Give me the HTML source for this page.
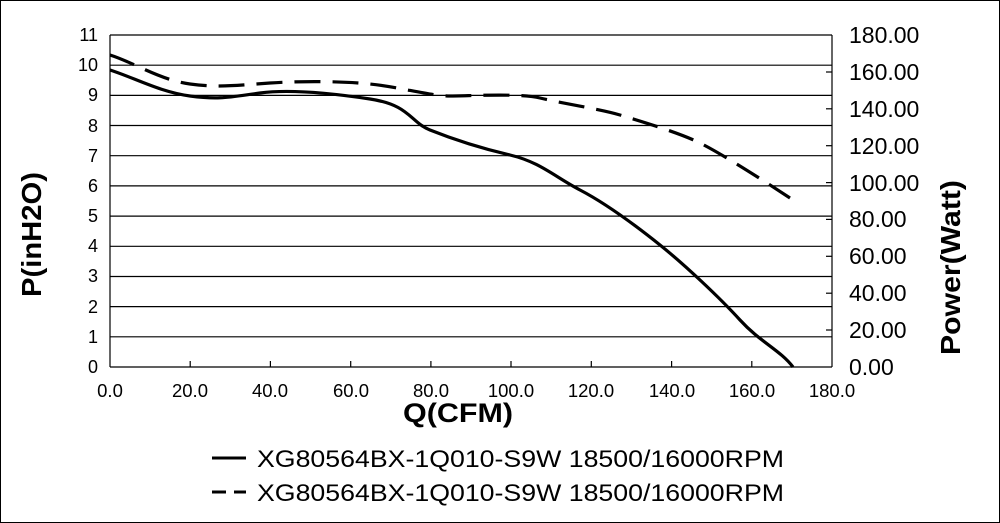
<!DOCTYPE html>
<html><head><style>
body{margin:0;background:#fff}
svg{display:block;font-family:"Liberation Sans",Arial,sans-serif}
</style></head><body>
<svg width="1000" height="523" viewBox="0 0 1000 523">
<rect x="0.5" y="0.5" width="999" height="522" fill="#fff" stroke="#000"/>
<g stroke="#000" stroke-width="1.2">
<line x1="110" y1="35" x2="832" y2="35"/>
<line x1="110" y1="65.2" x2="832" y2="65.2"/>
<line x1="110" y1="95.4" x2="832" y2="95.4"/>
<line x1="110" y1="125.5" x2="832" y2="125.5"/>
<line x1="110" y1="155.7" x2="832" y2="155.7"/>
<line x1="110" y1="185.9" x2="832" y2="185.9"/>
<line x1="110" y1="216.1" x2="832" y2="216.1"/>
<line x1="110" y1="246.3" x2="832" y2="246.3"/>
<line x1="110" y1="276.5" x2="832" y2="276.5"/>
<line x1="110" y1="306.6" x2="832" y2="306.6"/>
<line x1="110" y1="336.8" x2="832" y2="336.8"/>
<line x1="110" y1="367" x2="832" y2="367"/>
<line x1="110" y1="35" x2="110" y2="367"/>
<line x1="832" y1="35" x2="832" y2="367"/>
</g>
<g stroke="#000" stroke-width="1.2">
<line x1="190.2" y1="367" x2="190.2" y2="361"/><line x1="270.4" y1="367" x2="270.4" y2="361"/><line x1="350.7" y1="367" x2="350.7" y2="361"/><line x1="430.9" y1="367" x2="430.9" y2="361"/><line x1="511" y1="367" x2="511" y2="361"/><line x1="591.3" y1="367" x2="591.3" y2="361"/><line x1="671.6" y1="367" x2="671.6" y2="361"/><line x1="751.8" y1="367" x2="751.8" y2="361"/>
<line x1="826" y1="72" x2="832" y2="72"/><line x1="826" y1="108.8" x2="832" y2="108.8"/><line x1="826" y1="145.7" x2="832" y2="145.7"/><line x1="826" y1="182.6" x2="832" y2="182.6"/><line x1="826" y1="219.4" x2="832" y2="219.4"/><line x1="826" y1="256.3" x2="832" y2="256.3"/><line x1="826" y1="293.2" x2="832" y2="293.2"/><line x1="826" y1="330" x2="832" y2="330"/>
</g>
<g font-size="18" text-anchor="end">
<text x="98" y="41">11</text><text x="98" y="71">10</text><text x="98" y="101">9</text><text x="98" y="132">8</text><text x="98" y="162">7</text><text x="98" y="192">6</text><text x="98" y="222">5</text><text x="98" y="252">4</text><text x="98" y="282">3</text><text x="98" y="313">2</text><text x="98" y="343">1</text><text x="98" y="373">0</text>
</g>
<g font-size="23" text-anchor="start">
<text x="849" y="43">180.00</text><text x="849" y="80">160.00</text><text x="849" y="117">140.00</text><text x="849" y="154">120.00</text><text x="849" y="191">100.00</text><text x="849" y="227">80.00</text><text x="849" y="264">60.00</text><text x="849" y="301">40.00</text><text x="849" y="338">20.00</text><text x="849" y="375">0.00</text>
</g>
<g font-size="18.5" text-anchor="middle">
<text x="110" y="397">0.0</text><text x="190" y="397">20.0</text><text x="270" y="397">40.0</text><text x="351" y="397">60.0</text><text x="431" y="397">80.0</text><text x="511" y="397">100.0</text><text x="591" y="397">120.0</text><text x="672" y="397">140.0</text><text x="752" y="397">160.0</text><text x="832" y="397">180.0</text>
</g>
<text x="403" y="422" font-size="27" font-weight="bold" textLength="110" lengthAdjust="spacingAndGlyphs">Q(CFM)</text>
<text transform="translate(41,297) rotate(-90)" font-size="28" font-weight="bold" textLength="125" lengthAdjust="spacingAndGlyphs">P(inH2O)</text>
<text transform="translate(960,355) rotate(-90)" font-size="28" font-weight="bold" textLength="175" lengthAdjust="spacingAndGlyphs">Power(Watt)</text>
<path d="M110,70 C135,78 160,92 190,96 S230,97 260,93 S330,93 370,99 S410,122 430,130 S480,148 510,155 S555,177 580,190 S635,225 660,245 S720,298 740,320 S780,350 793,367" fill="none" stroke="#000" stroke-width="3.2"/>
<path d="M110,55 C135,63 160,80 190,84 S240,85 270,83 S340,81 370,84 S430,96 450,96 S520,93 540,98 S600,109 620,115 S680,133 700,143 S755,175 790,198" fill="none" stroke="#000" stroke-width="3.2" stroke-dasharray="26,12"/>
<line x1="212" y1="458" x2="246" y2="458" stroke="#000" stroke-width="3"/>
<line x1="212" y1="492" x2="226" y2="492" stroke="#000" stroke-width="3"/>
<line x1="234" y1="492" x2="246" y2="492" stroke="#000" stroke-width="3"/>
<text x="257" y="467" font-size="24" textLength="527" lengthAdjust="spacingAndGlyphs">XG80564BX-1Q010-S9W 18500/16000RPM</text>
<text x="257" y="501" font-size="24" textLength="527" lengthAdjust="spacingAndGlyphs">XG80564BX-1Q010-S9W 18500/16000RPM</text>
</svg>
</body></html>
